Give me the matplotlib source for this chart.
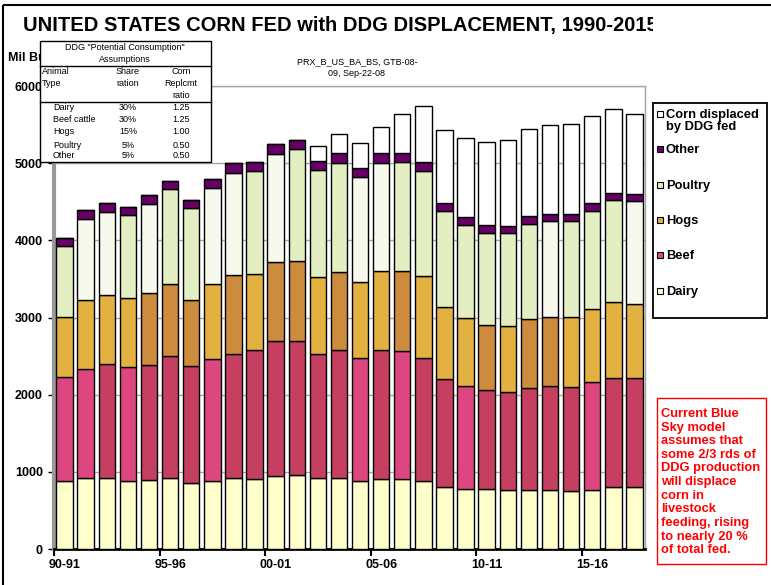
import numpy as np
import matplotlib
matplotlib.use("Agg")
import matplotlib.pyplot as plt
from matplotlib.patches import Rectangle

plt.rcParams['font.family'] = ['Liberation Sans', 'DejaVu Sans']

# marketing years 90-91 .. 17-18
years = ["90-91", "91-92", "92-93", "93-94", "94-95", "95-96", "96-97", "97-98", "98-99", "99-00",
         "00-01", "01-02", "02-03", "03-04", "04-05", "05-06", "06-07", "07-08", "08-09", "09-10",
         "10-11", "11-12", "12-13", "13-14", "14-15", "15-16", "16-17", "17-18"]

# corn fed, mil bu
dairy = [879, 926, 922, 887, 900, 922, 857, 883, 918, 909, 952, 961, 922, 918, 883, 909,
         909, 879, 805, 779, 775, 766, 771, 766, 758, 771, 797, 805]
beef = [1350, 1412, 1472, 1472, 1490, 1576, 1511, 1585, 1606, 1667, 1749, 1732, 1606, 1666,
        1593, 1667, 1658, 1597, 1403, 1334, 1281, 1273, 1320, 1342, 1337, 1389, 1424, 1407]
hogs = [780, 887, 900, 888, 930, 935, 861, 965, 1021, 982, 1013, 1034, 991, 1005, 987, 1021,
        1035, 1065, 931, 883, 853, 853, 892, 901, 914, 948, 978, 957]
poultry = [917, 1052, 1078, 1082, 1152, 1229, 1187, 1251, 1334, 1338, 1403, 1455, 1394, 1415,
           1355, 1407, 1411, 1359, 1242, 1203, 1191, 1199, 1225, 1238, 1238, 1273, 1325, 1337]
other = [104, 117, 113, 108, 112, 109, 112, 113, 117, 117, 125, 121, 113, 122, 113, 122,
         121, 109, 100, 100, 99, 99, 108, 95, 95, 100, 95, 96]
displaced = [0, 0, 0, 0, 0, 0, 0, 0, 0, 0, 0, 0, 199, 251, 329, 342,
             507, 727, 943, 1030, 1078, 1109, 1130, 1147, 1164, 1129, 1078, 1034]

# excel "vary colours" shade flags per bar
beef_shade = [0, 0, 1, 0, 1, 1, 1, 0, 1, 1, 1, 1, 1, 1, 0, 1, 0, 1, 1, 0, 1, 1, 1, 1, 1, 0, 1, 1]
hogs_shade = [0, 0, 0, 0, 1, 1, 1, 0, 1, 0, 1, 1, 0, 1, 0, 0, 1, 0, 0, 0, 1, 0, 1, 1, 0, 0, 0, 0]
poultry_shade = [0, 1, 1, 0, 1, 0, 0, 1, 1, 0, 1, 0, 0, 0, 1, 1, 0, 0, 0, 0, 0, 0, 0, 1, 0, 0, 0, 1]

tick_years = ["90-91", "95-96", "00-01", "05-06", "10-11", "15-16"]

c_dairy = "#FFFFCC"
c_beef = ["#DE4680", "#C53F60"]
c_hogs = ["#E3B042", "#CD8B3D"]
c_poultry = ["#E3EFC2", "#F7F9EC"]
c_other = "#660066"

fig = plt.figure(figsize=(7.71, 5.85), dpi=100)
ax = fig.add_axes([54/771, 1-549/585, (645-54)/771, (549-86)/585])

x = np.arange(len(years))
w = 0.78
bottom = np.zeros(len(years))
series = [
    (dairy, [c_dairy]*len(years)),
    (beef, [c_beef[s] for s in beef_shade]),
    (hogs, [c_hogs[s] for s in hogs_shade]),
    (poultry, [c_poultry[s] for s in poultry_shade]),
    (other, [c_other]*len(years)),
    (displaced, ["white"]*len(years)),
]
for vals, cols in series:
    vals = np.array(vals, dtype=float)
    ax.bar(x, vals, w, bottom=bottom, color=cols, edgecolor="black", linewidth=1.0, zorder=3)
    bottom += vals

ax.set_xlim(-0.5, len(years)-0.5)
ax.set_ylim(0, 6000)
ax.set_yticks(range(0, 6001, 1000))
ax.set_yticklabels([str(v) for v in range(0, 6001, 1000)], fontsize=9, fontweight="bold")
ax.grid(axis="y", color="#A6A6A6", linewidth=1.0, zorder=0)

ax.set_xticks(np.arange(-0.5, len(years)-1, 5))
ax.set_xticklabels([])
ax.set_xticks([years.index(t) for t in tick_years], minor=True)
ax.set_xticklabels(tick_years, minor=True, fontsize=9, fontweight="bold")
ax.tick_params(axis="x", which="major", length=5, width=1.5, direction="out")
ax.tick_params(axis="x", which="minor", length=0, pad=7)
ax.tick_params(axis="y", length=4, width=1, pad=4)

ax.spines["left"].set_color("#999999")
ax.spines["left"].set_linewidth(3)
ax.spines["bottom"].set_color("black")
ax.spines["bottom"].set_linewidth(2)
for s in ["top", "right"]:
    ax.spines[s].set_color("#A6A6A6")
    ax.spines[s].set_linewidth(1)

# overlay in pixel coords for the boxes and texts
ov = fig.add_axes([0, 0, 1, 1], zorder=5)
ov.set_xlim(0, 771)
ov.set_ylim(585, 0)
ov.axis("off")
ov.patch.set_alpha(0)

title = ov.text(23, 26, "UNITED STATES CORN FED with DDG DISPLACEMENT, 1990-2015",
                fontsize=14.5, fontweight="bold", va="center", ha="left")
title.set_clip_on(True)
title.set_clip_path(Rectangle((0, 0), 653, 585, transform=ov.transData))

ov.text(8, 58, "Mil Bu", fontsize=9, fontweight="bold", va="center")

# assumptions table
ov.add_patch(Rectangle((40, 41), 171, 121, facecolor="white", edgecolor="black", linewidth=1, zorder=4))
ov.plot([40, 211], [66, 66], color="black", linewidth=1, zorder=5)
ov.plot([40, 211], [102, 102], color="black", linewidth=1, zorder=5)
fs = 6.5
ov.text(125, 47, 'DDG "Potential Consumption"', fontsize=fs, ha="center", va="center", zorder=6)
ov.text(125, 60, "Assumptions", fontsize=fs, ha="center", va="center", zorder=6)
for txt, yy in [("Animal", 72), ("Type", 84)]:
    ov.text(42, yy, txt, fontsize=fs, ha="left", va="center", zorder=6)
for txt, yy in [("Share", 72), ("ration", 84)]:
    ov.text(128, yy, txt, fontsize=fs, ha="center", va="center", zorder=6)
for txt, yy in [("Corn", 72), ("Replcmt", 84), ("ratio", 96)]:
    ov.text(181, yy, txt, fontsize=fs, ha="center", va="center", zorder=6)
animals = ["Dairy", "Beef cattle", "Hogs", "Poultry", "Other"]
shares = ["30%", "30%", "15%", "5%", "5%"]
ratios = ["1.25", "1.25", "1.00", "0.50", "0.50"]
for i, yy in enumerate([108, 120, 132, 145, 156]):
    ov.text(53, yy, animals[i], fontsize=fs, ha="left", va="center", zorder=6)
    ov.text(128, yy, shares[i], fontsize=fs, ha="center", va="center", zorder=6)
    ov.text(181, yy, ratios[i], fontsize=fs, ha="center", va="center", zorder=6)

ov.text(357, 62, "PRX_B_US_BA_BS, GTB-08-", fontsize=fs, ha="center", va="center")
ov.text(357, 73, "09, Sep-22-08", fontsize=fs, ha="center", va="center")

# legend
ov.add_patch(Rectangle((653, 103), 114, 215, facecolor="white", edgecolor="black", linewidth=1.3))
leg = [("Corn displaced\nby DDG fed", "white", 114, 109),
       ("Other", c_other, 149, 144), ("Poultry", c_poultry[0], 185, 180),
       ("Hogs", c_hogs[0], 220, 215), ("Beef", c_beef[0], 255, 250), ("Dairy", c_dairy, 291, 286)]
for lab, col, yy, ty in leg:
    ov.add_patch(Rectangle((657, yy-3), 6, 6, facecolor=col, edgecolor="black", linewidth=0.8))
    ov.text(666, ty, lab, fontsize=9.3, fontweight="bold", ha="left", va="top", linespacing=1.0)

# note box
ov.add_patch(Rectangle((657, 398), 109, 166, facecolor="white", edgecolor="#FF0000", linewidth=1))
ov.text(661, 408, "Current Blue\nSky model\nassumes that\nsome 2/3 rds of\nDDG production\nwill displace\n"
        "corn in\nlivestock\nfeeding, rising\nto nearly 20 %\nof total fed.",
        fontsize=9.3, fontweight="bold", color="#FF0000", ha="left", va="top", linespacing=1.18)

# outer frame (only top and left edges fall inside the picture)
ov.add_patch(Rectangle((3, 5), 800, 600, facecolor="none", edgecolor="black", linewidth=1.5))

fig.savefig("out.png", dpi=100)
